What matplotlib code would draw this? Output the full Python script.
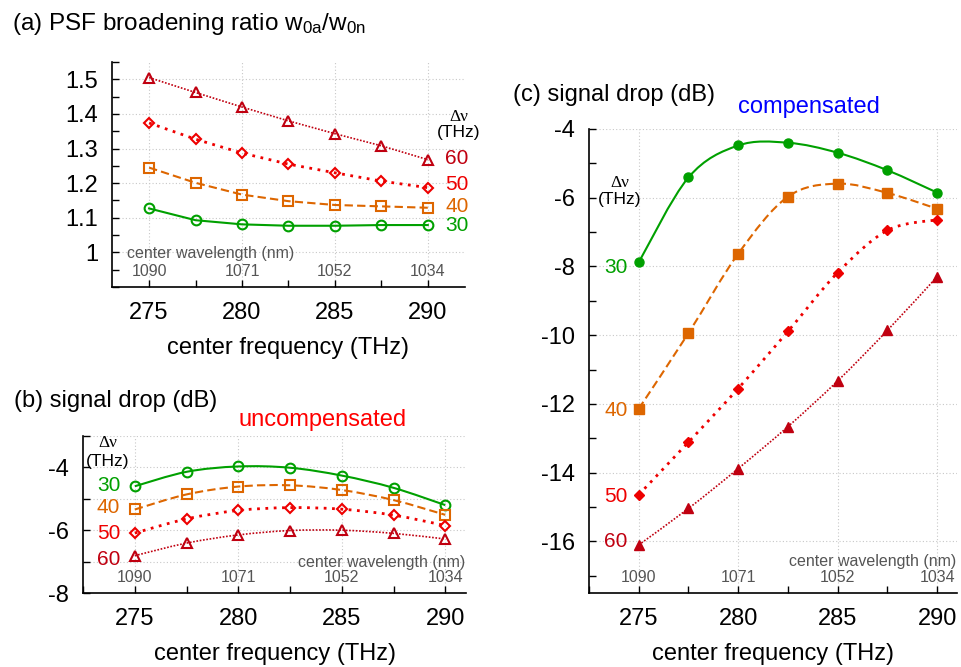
import numpy as np
import matplotlib
matplotlib.use('Agg')
import matplotlib.pyplot as plt
from matplotlib.path import Path
from matplotlib.patches import PathPatch
from matplotlib.ticker import MultipleLocator

plt.rcParams['font.family'] = ['Liberation Sans', 'DejaVu Sans']
plt.rcParams['mathtext.fontset'] = 'custom'
plt.rcParams['mathtext.rm'] = 'Liberation Sans'
plt.rcParams['mathtext.it'] = 'Liberation Sans'
plt.rcParams['mathtext.default'] = 'regular'
plt.rcParams['axes.unicode_minus'] = False

# data
freq = [275, 277.5, 280, 282.5, 285, 287.5, 290]
wl_pos = [275, 280, 285, 290]
wl_labels = ['1090', '1071', '1052', '1034']
bw_labels = ['30', '40', '50', '60']

ratio_30 = [1.127, 1.093, 1.081, 1.077, 1.077, 1.079, 1.079]
ratio_40 = [1.245, 1.201, 1.167, 1.148, 1.137, 1.133, 1.129]
ratio_50 = [1.374, 1.327, 1.287, 1.255, 1.230, 1.206, 1.187]
ratio_60 = [1.505, 1.462, 1.420, 1.380, 1.343, 1.308, 1.268]

uncomp_30 = [-4.60, -4.14, -3.97, -4.01, -4.26, -4.65, -5.20]
uncomp_40 = [-5.34, -4.86, -4.61, -4.57, -4.72, -5.04, -5.51]
uncomp_50 = [-6.09, -5.64, -5.37, -5.28, -5.33, -5.52, -5.85]
uncomp_60 = [-6.81, -6.41, -6.15, -6.01, -6.00, -6.10, -6.28]

comp_30 = [-7.88, -5.41, -4.48, -4.40, -4.69, -5.20, -5.85]
comp_40 = [-12.14, -9.94, -7.63, -5.97, -5.59, -5.86, -6.32]
comp_50 = [-14.64, -13.11, -11.55, -9.89, -8.18, -6.95, -6.64]
comp_60 = [-16.10, -15.04, -13.88, -12.66, -11.33, -9.86, -8.30]

colors = ['#00a000', '#dd6600', '#ee0000', '#c00010']
styles = ['-', (0, (4, 2)), (0, (1, 2)), (0, (1, 1))]
widths = [1.5, 1.5, 2.0, 1.2]
markers = ['o', 's', 'D', '^']
open_ms = [7, 7.5, 5.5, 7.5]
fill_ms = [6.5, 7.5, 5.5, 6.5]
gray = '#555555'


def smooth_path(x, y):
    # Catmull-Rom curve through the points, drawn as bezier segments
    pts = np.column_stack([x, y])
    n = len(pts)
    verts = [pts[0]]
    codes = [Path.MOVETO]
    for i in range(n - 1):
        p0 = pts[max(i - 1, 0)]
        p1 = pts[i]
        p2 = pts[i + 1]
        p3 = pts[min(i + 2, n - 1)]
        verts += [p1 + (p2 - p0) / 6, p2 - (p3 - p1) / 6, p2]
        codes += [Path.CURVE4] * 3
    return Path(verts, codes)


def style_axes(ax, xlim, ylim, ymajor, yminor, ygrid_minor=False):
    ax.set_xlim(*xlim)
    ax.set_ylim(*ylim)
    for s in ['top', 'right']:
        ax.spines[s].set_visible(False)
    for s in ['left', 'bottom']:
        ax.spines[s].set_linewidth(1.2)
    ax.xaxis.set_major_locator(MultipleLocator(5))
    ax.xaxis.set_minor_locator(MultipleLocator(2.5))
    ax.yaxis.set_major_locator(MultipleLocator(ymajor))
    ax.yaxis.set_minor_locator(MultipleLocator(yminor))
    ax.tick_params(which='both', direction='in', length=5, width=1, labelsize=17)
    ax.tick_params(axis='x', pad=11)
    ax.tick_params(axis='y', pad=10)
    ax.grid(True, which='major', color='#c8c8c8', linestyle=(0, (1, 2)), linewidth=0.8)
    if ygrid_minor:
        ax.grid(True, which='minor', axis='y', color='#c8c8c8', linestyle=(0, (1, 2)), linewidth=0.8)
    ax.set_axisbelow(True)
    ax.set_xlabel('center frequency (THz)', fontsize=17, labelpad=9)


fig = plt.figure(figsize=(9.61, 6.67), dpi=100)

# (a) PSF broadening ratio
ax_a = fig.add_axes([0.1165, 0.5697, 0.3673, 0.3373])
style_axes(ax_a, (273, 292), (0.9, 1.55), 0.1, 0.05)
ax_a.yaxis.set_major_formatter(plt.FuncFormatter(lambda v, p: '' if v < 0.95 else '%g' % round(v, 2)))
for ys, c, ls, lw, m, ms in zip([ratio_30, ratio_40, ratio_50, ratio_60], colors, styles, widths, markers, open_ms):
    ax_a.plot(freq, ys, color=c, linestyle=ls, linewidth=lw, marker=m, markersize=ms,
              markerfacecolor='none', markeredgewidth=1.5, clip_on=False)
for lab, y, c in zip(bw_labels, [1.079, 1.134, 1.197, 1.270], colors):
    ax_a.text(290.95, y, lab, color=c, fontsize=15, ha='left', va='center')
ax_a.text(291.65, 1.39, 'Δν', fontsize=12.5, ha='center', va='center', family=['Liberation Serif', 'DejaVu Serif'])
ax_a.text(291.65, 1.345, '(THz)', fontsize=12.5, ha='center', va='center')
tr_a = ax_a.get_xaxis_transform()
ax_a.text(273.8, 0.147, 'center wavelength (nm)', color=gray, fontsize=11.5, ha='left', va='center', transform=tr_a)
for xp, lab in zip(wl_pos, wl_labels):
    ax_a.text(xp, 0.067, lab, color=gray, fontsize=11.5, ha='center', va='center', transform=tr_a)
fig.text(12 / 961, 1 - 24 / 667, '(a) PSF broadening ratio w$_{0a}$/w$_{0n}$', fontsize=17.5, ha='left', va='center')

# (b) signal drop, uncompensated
ax_b = fig.add_axes([0.0864, 0.1109, 0.3985, 0.2354])
style_axes(ax_b, (272.5, 291), (-8, -3), 2, 1, ygrid_minor=True)
for ys, c, ls, lw, m, ms in zip([uncomp_30, uncomp_40, uncomp_50, uncomp_60], colors, styles, widths, markers, open_ms):
    ax_b.add_patch(PathPatch(smooth_path(freq, ys), fill=False, edgecolor=c, linestyle=ls, linewidth=lw))
    ax_b.plot(freq, ys, linestyle='none', color=c, marker=m, markersize=ms,
              markerfacecolor='none', markeredgewidth=1.5, clip_on=False)
for lab, y, c in zip(bw_labels, [-4.59, -5.29, -6.12, -6.92], colors):
    ax_b.text(274.3, y, lab, color=c, fontsize=15, ha='right', va='center')
ax_b.text(273.7, -3.22, 'Δν', fontsize=12.5, ha='center', va='center', family=['Liberation Serif', 'DejaVu Serif'])
ax_b.text(273.7, -3.8, '(THz)', fontsize=12.5, ha='center', va='center')
tr_b = ax_b.get_xaxis_transform()
ax_b.text(290.95, 0.197, 'center wavelength (nm)', color=gray, fontsize=11.5, ha='right', va='center', transform=tr_b)
for xp, lab in zip(wl_pos, wl_labels):
    ax_b.text(xp, 0.10, lab, color=gray, fontsize=11.5, ha='center', va='center', transform=tr_b)
fig.text(14 / 961, 1 - 401 / 667, '(b) signal drop (dB)', fontsize=17, ha='left', va='center')
fig.text(238 / 961, 1 - 420 / 667, 'uncompensated', fontsize=17, color='#ff0000', ha='left', va='center')

# (c) signal drop, compensated
ax_c = fig.add_axes([0.6129, 0.1109, 0.3829, 0.6957])
style_axes(ax_c, (272.5, 291), (-17.5, -4), 2, 1)
for ys, c, ls, lw, m, ms in zip([comp_30, comp_40, comp_50, comp_60], colors, styles, widths, markers, fill_ms):
    ax_c.add_patch(PathPatch(smooth_path(freq, ys), fill=False, edgecolor=c, linestyle=ls, linewidth=lw))
    ax_c.plot(freq, ys, linestyle='none', color=c, marker=m, markersize=ms, clip_on=False)
for lab, y, c in zip(bw_labels, [-8.02, -12.2, -14.7, -16.0], colors):
    ax_c.text(274.45, y, lab, color=c, fontsize=15, ha='right', va='center')
ax_c.text(274.05, -5.56, 'Δν', fontsize=12.5, ha='center', va='center', family=['Liberation Serif', 'DejaVu Serif'])
ax_c.text(274.05, -6.06, '(THz)', fontsize=12.5, ha='center', va='center')
tr_c = ax_c.get_xaxis_transform()
ax_c.text(290.98, 0.069, 'center wavelength (nm)', color=gray, fontsize=11.5, ha='right', va='center', transform=tr_c)
for xp, lab in zip(wl_pos, wl_labels):
    ax_c.text(xp, 0.0345, lab, color=gray, fontsize=11.5, ha='center', va='center', transform=tr_c)
fig.text(513 / 961, 1 - 95 / 667, '(c) signal drop (dB)', fontsize=17, ha='left', va='center')
fig.text(738 / 961, 1 - 107 / 667, 'compensated', fontsize=17, color='#0000ff', ha='left', va='center')

fig.savefig('out.png', dpi=100)
